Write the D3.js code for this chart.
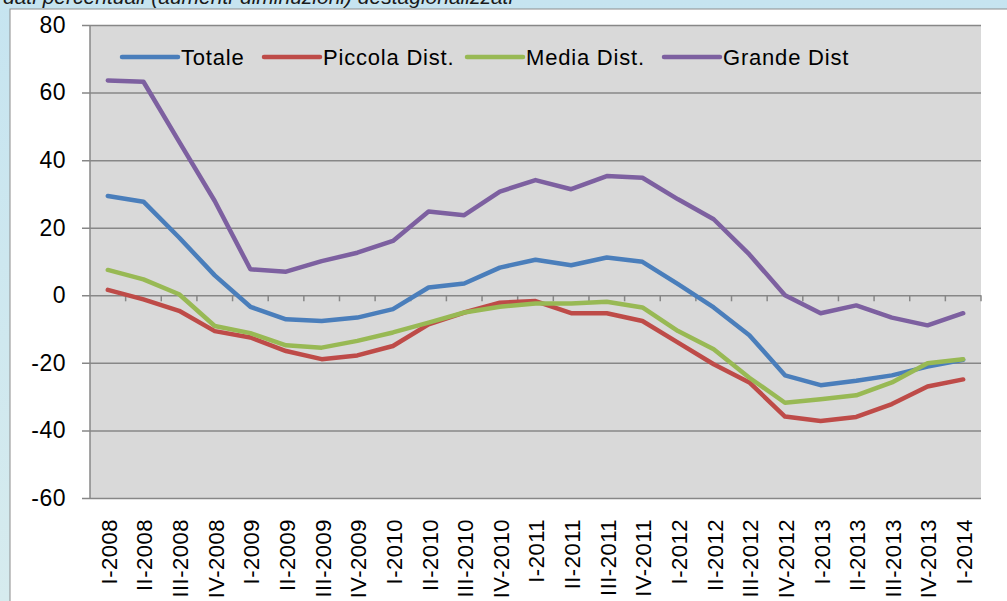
<!DOCTYPE html>
<html>
<head>
<meta charset="utf-8">
<script src="https://cdn.jsdelivr.net/npm/d3@7"></script>
<style>
   html, body { margin: 0; padding: 0; background: #fff; }
   svg { display: block; }
</style>
</head>
<body>
<div id="chart"></div>
<script>
const quarters = ["I-2008", "II-2008", "III-2008", "IV-2008", "I-2009", "II-2009", "III-2009", "IV-2009",
   "I-2010", "II-2010", "III-2010", "IV-2010", "I-2011", "II-2011", "III-2011", "IV-2011",
   "I-2012", "II-2012", "III-2012", "IV-2012", "I-2013", "II-2013", "III-2013", "IV-2013", "I-2014"];

const totale = [29.4, 27.7, 17.1, 5.9, -3.4, -7.1, -7.6, -6.6, -4.1, 2.3, 3.5, 8.2, 10.5,
   8.9, 11.2, 9.9, 3.3, -3.6, -11.8, -23.7, -26.6, -25.3, -23.7, -21.1, -19.1];
const piccola = [1.6, -1.2, -4.6, -10.6, -12.5, -16.5, -18.9, -17.8, -15.0, -8.6, -5.1, -2.2, -1.7,
   -5.3, -5.3, -7.6, -14.0, -20.4, -25.8, -35.9, -37.2, -36.0, -32.2, -27.0, -24.9];
const media = [7.5, 4.7, 0.3, -9.1, -11.2, -14.8, -15.5, -13.5, -11.0, -8.1, -5.1, -3.4, -2.4,
   -2.4, -1.9, -3.6, -10.6, -16.0, -24.4, -31.8, -30.8, -29.6, -25.8, -20.1, -18.9];
const grande = [63.6, 63.2, 45.5, 27.9, 7.7, 7.0, 10.1, 12.6, 16.1, 24.8, 23.7, 30.7, 34.1,
   31.4, 35.3, 34.8, 28.4, 22.5, 12.1, 0.0, -5.3, -3.0, -6.6, -8.9, -5.3];

const seriesNames = ["Totale", "Piccola Dist.", "Media Dist.", "Grande Dist"];
const seriesColors = ["#4a7ebb", "#be4b48", "#98b954", "#7d60a0"];
const yTicks = [80, 60, 40, 20, 0, -20, -40, -60];

const caption = "dati percentuali (aumenti-diminuzioni) destagionalizzati";

const W = 1007, H = 601;
const plot = { left: 90, right: 981, top: 25, bottom: 498 };
const font = "'Liberation Sans', Arial, sans-serif";

const svg = d3.select("#chart")
   .append("svg")
   .attr("width", W)
   .attr("height", H);

// light blue slide background with the white chart box on top
const grad = svg.append("defs").append("linearGradient")
   .attr("id", "bg")
   .attr("x1", 0).attr("y1", 0).attr("x2", 0).attr("y2", 1);
grad.append("stop").attr("offset", "0%").attr("stop-color", "#c6e4f0");
grad.append("stop").attr("offset", "100%").attr("stop-color", "#d6ebee");

svg.append("rect")
   .attr("width", W)
   .attr("height", H)
   .attr("fill", "url(#bg)");

svg.append("rect")
   .attr("x", 10)
   .attr("y", 9)
   .attr("width", W + 10)
   .attr("height", H + 10)
   .attr("fill", "#fff")
   .attr("stroke", "#8c8c8c")
   .attr("stroke-width", 1);

svg.append("text")
   .attr("x", 3)
   .attr("y", 4)
   .attr("font-family", font)
   .attr("font-style", "italic")
   .attr("font-size", 21)
   .attr("fill", "#1a1a1a")
   .text(caption);

const x = d3.scalePoint()
   .domain(quarters)
   .range([plot.left, plot.right])
   .padding(0.5);

const y = d3.scaleLinear()
   .domain([-60, 80])
   .range([plot.bottom, plot.top]);

svg.append("rect")
   .attr("x", plot.left)
   .attr("y", plot.top)
   .attr("width", plot.right - plot.left)
   .attr("height", plot.bottom - plot.top)
   .attr("fill", "#d9d9d9");

// y axis: gridlines, ticks and labels (plain hyphen as minus, like the original)
const yAxis = svg.append("g")
   .attr("transform", `translate(${plot.left},0)`)
   .call(d3.axisLeft(y)
      .tickValues(yTicks)
      .tickSize(-(plot.right - plot.left))
      .tickPadding(24)
      .tickFormat(d => String(d)));

yAxis.select(".domain").remove();
yAxis.selectAll(".tick line")
   .attr("x1", -8)
   .attr("stroke", "#878787")
   .attr("stroke-width", 1.5);
yAxis.selectAll(".tick text")
   .attr("font-family", font)
   .attr("font-size", 23)
   .attr("letter-spacing", 0.5)
   .attr("fill", "#000");

svg.append("line")
   .attr("x1", plot.left).attr("x2", plot.left)
   .attr("y1", plot.top).attr("y2", plot.bottom)
   .attr("stroke", "#878787")
   .attr("stroke-width", 1.5);

// category ticks hang below the zero line, between the quarters
const step = x.step();
const boundaries = quarters.map(q => x(q) + step / 2);
svg.append("g")
   .selectAll("line")
   .data(boundaries)
   .join("line")
   .attr("x1", d => d).attr("x2", d => d)
   .attr("y1", y(0)).attr("y2", y(0) + 6)
   .attr("stroke", "#878787")
   .attr("stroke-width", 1.5);

svg.append("g")
   .selectAll("text")
   .data(quarters)
   .join("text")
   .attr("transform", d => `translate(${x(d) + 1},519) rotate(-90)`)
   .attr("text-anchor", "end")
   .attr("dy", "0.36em")
   .attr("font-family", font)
   .attr("font-size", 22)
   .attr("letter-spacing", 0.5)
   .attr("fill", "#000")
   .text(d => d);

// the four series
const series = [totale, piccola, media, grande];
const line = d3.line()
   .x((d, i) => x(quarters[i]))
   .y(d => y(d));

svg.append("g")
   .selectAll("path")
   .data(series)
   .join("path")
   .attr("d", line)
   .attr("fill", "none")
   .attr("stroke", (d, i) => seriesColors[i])
   .attr("stroke-width", 4.5)
   .attr("stroke-linejoin", "round")
   .attr("stroke-linecap", "round");

// legend inside the plot area
const legendX = [122, 264, 467, 664];
const legend = svg.append("g")
   .selectAll("g")
   .data(seriesNames)
   .join("g")
   .attr("transform", (d, i) => `translate(${legendX[i]},57)`);

legend.append("line")
   .attr("x1", 0).attr("x2", 56)
   .attr("stroke", (d, i) => seriesColors[i])
   .attr("stroke-width", 4.5)
   .attr("stroke-linecap", "round");

legend.append("text")
   .attr("x", 59)
   .attr("dy", "0.36em")
   .attr("font-family", font)
   .attr("font-size", 22)
   .attr("letter-spacing", 0.8)
   .attr("fill", "#000")
   .text(d => d);
</script>
</body>
</html>
